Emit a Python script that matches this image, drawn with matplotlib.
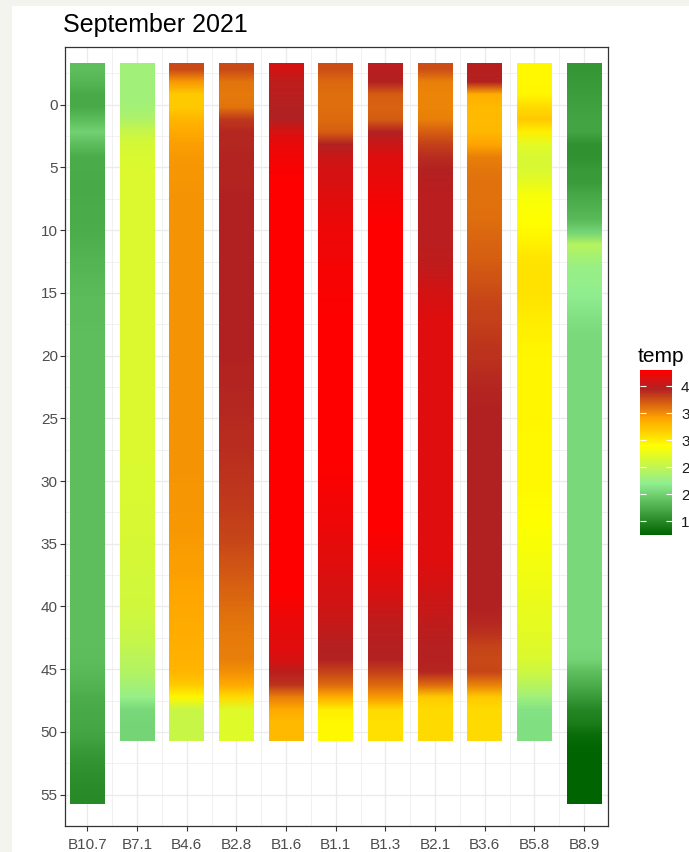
import numpy as np
import matplotlib
matplotlib.use('Agg')
import matplotlib.pyplot as plt
from matplotlib.colors import LinearSegmentedColormap, Normalize
from matplotlib.cm import ScalarMappable
from matplotlib.patches import Rectangle

plt.rcParams['font.family'] = ['Liberation Sans', 'DejaVu Sans']

W, H = 689, 852

stations = ['B10.7', 'B7.1', 'B4.6', 'B2.8', 'B1.6', 'B1.1',
            'B1.3', 'B2.1', 'B3.6', 'B5.8', 'B8.9']

# depth (m) of each reading, B10.7 and B8.9 go deeper
depth_short = list(range(-3, 51))
depth_long = list(range(-3, 56))

# temperature profiles, one value per metre, top to bottom
temp_B10_7 = [18.7, 18.2, 17.3, 17.3, 18.6, 20.1, 18.6, 17.5, 17.4, 17.3,
              17.3, 17.4, 17.5, 17.6, 17.8, 18.0, 18.2, 18.4, 18.5, 18.6,
              18.6, 18.7, 18.7, 18.7, 18.7, 18.8, 18.8, 18.8, 18.8, 18.8,
              18.8, 18.8, 18.8, 18.8, 18.8, 18.8, 18.8, 18.8, 18.8, 18.8,
              18.8, 18.8, 18.8, 18.8, 18.8, 18.7, 18.7, 18.6, 18.4, 18.0,
              17.6, 17.3, 17.2, 17.0, 16.4, 15.9, 15.5, 15.3, 15.2]
temp_B7_1 = [23.0, 23.0, 23.1, 23.3, 24.0, 25.5, 26.4, 26.6, 26.7, 26.7,
             26.7, 26.7, 26.7, 26.7, 26.7, 26.7, 26.7, 26.7, 26.7, 26.7,
             26.7, 26.7, 26.7, 26.7, 26.7, 26.7, 26.7, 26.7, 26.7, 26.7,
             26.7, 26.7, 26.6, 26.6, 26.6, 26.5, 26.5, 26.5, 26.4, 26.4,
             26.3, 26.2, 26.1, 26.0, 25.8, 25.6, 25.2, 24.6, 24.2, 23.4,
             22.4, 20.5, 20.3, 20.3]
temp_B4_6 = [37.8, 34.5, 32.0, 32.0, 33.0, 33.8, 34.3, 34.5, 34.6, 34.6,
             34.7, 34.7, 34.7, 34.7, 34.7, 34.7, 34.7, 34.7, 34.7, 34.7,
             34.7, 34.7, 34.7, 34.7, 34.7, 34.7, 34.7, 34.7, 34.7, 34.7,
             34.7, 34.7, 34.7, 34.6, 34.6, 34.6, 34.5, 34.5, 34.4, 34.3,
             34.2, 34.0, 33.9, 33.8, 33.6, 33.5, 33.4, 33.3, 33.0, 32.0,
             29.5, 25.5, 25.5, 25.5]
temp_B2_8 = [37.8, 36.0, 35.8, 36.0, 38.5, 39.2, 39.3, 39.4, 39.4, 39.4,
             39.5, 39.5, 39.5, 39.5, 39.5, 39.5, 39.5, 39.5, 39.5, 39.5,
             39.5, 39.5, 39.5, 39.5, 39.4, 39.4, 39.3, 39.2, 39.1, 39.0,
             39.0, 38.9, 38.8, 38.6, 38.5, 38.4, 38.2, 38.0, 37.8, 37.5,
             37.2, 36.9, 36.6, 36.3, 36.0, 35.8, 35.7, 35.6, 34.8, 33.8,
             31.0, 27.0, 27.0, 27.0]
temp_B1_6 = [41.0, 40.0, 39.8, 39.5, 39.5, 41.2, 42.0, 42.4, 42.7, 42.9,
             43.0, 43.0, 43.0, 43.0, 43.0, 43.0, 43.0, 43.0, 43.0, 43.0,
             43.0, 43.0, 43.0, 43.0, 43.0, 43.0, 43.0, 43.0, 43.0, 43.0,
             43.0, 43.0, 43.0, 43.0, 43.0, 43.0, 43.0, 43.0, 43.0, 43.0,
             43.0, 43.0, 42.8, 42.4, 42.0, 41.7, 41.6, 41.2, 39.8, 38.8,
             35.5, 33.8, 32.8, 32.8]
temp_B1_1 = [37.6, 36.5, 36.3, 36.3, 36.4, 37.0, 39.5, 40.5, 41.0, 41.2,
             41.5, 41.8, 42.0, 42.2, 42.2, 42.3, 42.6, 42.6, 42.7, 42.8,
             42.9, 42.9, 42.9, 42.9, 42.9, 42.9, 42.9, 42.9, 42.9, 42.9,
             42.9, 42.9, 42.8, 42.7, 42.5, 42.4, 42.2, 42.0, 41.8, 41.6,
             41.4, 41.2, 41.0, 40.7, 40.4, 40.0, 39.6, 39.5, 38.0, 36.5,
             33.5, 30.0, 29.4, 29.4]
temp_B1_3 = [39.8, 39.5, 37.0, 36.8, 37.0, 39.5, 40.5, 41.5, 41.8, 42.0,
             42.3, 42.6, 42.8, 43.0, 43.0, 43.0, 43.0, 43.0, 43.0, 43.0,
             43.0, 43.0, 43.0, 43.0, 43.0, 43.0, 43.0, 43.0, 43.0, 43.0,
             43.0, 43.0, 43.0, 43.0, 43.0, 43.0, 42.9, 42.8, 42.5, 42.2,
             41.8, 41.5, 41.0, 40.5, 40.0, 39.8, 39.6, 39.5, 38.2, 36.5,
             34.5, 31.0, 30.7, 30.7]
temp_B2_1 = [37.6, 35.5, 35.3, 35.3, 35.5, 37.0, 38.2, 39.0, 39.5, 39.7,
             39.8, 39.8, 39.8, 39.8, 39.9, 40.0, 40.2, 40.7, 41.0, 41.3,
             41.5, 41.5, 41.5, 41.5, 41.5, 41.5, 41.5, 41.5, 41.5, 41.5,
             41.5, 41.5, 41.5, 41.5, 41.5, 41.5, 41.5, 41.5, 41.5, 41.5,
             41.3, 41.0, 40.7, 40.4, 40.1, 39.8, 39.6, 39.6, 39.2, 36.5,
             32.0, 31.0, 31.0, 31.0]
temp_B3_6 = [39.7, 39.5, 33.5, 32.8, 32.8, 32.9, 34.0, 35.5, 35.9, 36.1,
             36.1, 36.2, 36.3, 36.5, 36.7, 36.9, 37.2, 37.5, 37.8, 38.0,
             38.2, 38.4, 38.6, 38.8, 39.0, 39.2, 39.4, 39.5, 39.5, 39.5,
             39.5, 39.5, 39.5, 39.5, 39.5, 39.5, 39.5, 39.5, 39.5, 39.5,
             39.5, 39.5, 39.5, 39.5, 39.3, 38.8, 38.0, 37.8, 37.9, 35.5,
             32.0, 31.0, 31.0, 31.0]
temp_B5_8 = [29.3, 29.4, 29.5, 31.0, 32.0, 29.8, 27.2, 26.5, 26.6, 27.5,
             28.5, 28.8, 29.0, 29.3, 29.8, 30.4, 30.6, 30.6, 30.5, 30.3,
             30.0, 29.8, 29.6, 29.5, 29.5, 29.5, 29.5, 29.5, 29.5, 29.4,
             29.4, 29.4, 29.3, 29.3, 29.2, 29.1, 29.0, 28.8, 28.6, 28.4,
             28.2, 28.0, 27.8, 27.6, 27.4, 27.2, 27.0, 26.6, 25.8, 24.6,
             23.0, 21.2, 21.0, 21.0]
temp_B8_9 = [16.0, 16.2, 16.5, 16.7, 17.0, 17.0, 15.7, 15.7, 16.2, 16.4,
             17.2, 17.8, 18.5, 20.3, 24.5, 23.3, 22.5, 22.3, 22.0, 21.5,
             21.0, 20.7, 20.6, 20.6, 20.6, 20.6, 20.6, 20.6, 20.6, 20.6,
             20.6, 20.6, 20.6, 20.6, 20.6, 20.6, 20.6, 20.6, 20.6, 20.6,
             20.6, 20.6, 20.6, 20.6, 20.6, 20.6, 20.6, 20.2, 18.8, 17.6,
             16.3, 15.0, 14.4, 13.2, 12.7, 12.5, 12.5, 12.5, 12.5]

profiles = [temp_B10_7, temp_B7_1, temp_B4_6, temp_B2_8, temp_B1_6, temp_B1_1,
            temp_B1_3, temp_B2_1, temp_B3_6, temp_B5_8, temp_B8_9]

# fill scale: colour anchored at a temperature
scale_temps = [12.5, 22.0, 29.0, 34.0, 39.5, 43.0]
scale_colors = ['#006400', '#90EE90', '#FFFF00', '#FFA500', '#B22222', '#FF0000']
legend_breaks = [15, 20, 25, 30, 35, 40]


def fig_rect(left, top, right, bottom):
    # pixel box -> figure fraction [x, y, w, h]
    return [left / W, 1 - bottom / H, (right - left) / W, (bottom - top) / H]


def makeCmap():
    lo, hi = scale_temps[0], scale_temps[-1]
    nodes = [(t - lo) / (hi - lo) for t in scale_temps]
    cmap = LinearSegmentedColormap.from_list('temp', list(zip(nodes, scale_colors)))
    return cmap, Normalize(vmin=lo, vmax=hi)


def drawProfiles(ax, cmap, norm):
    for i, temps in enumerate(profiles):
        x = i + 1
        depth = depth_long if len(temps) == len(depth_long) else depth_short
        col = np.array(temps)[:, None]
        ax.imshow(col, cmap=cmap, norm=norm, aspect='auto',
                  interpolation='bilinear', interpolation_stage='rgba',
                  extent=(x - 0.35, x + 0.35, depth[-1] + 0.75, depth[0] - 0.25),
                  zorder=2)


fig = plt.figure(figsize=(W / 100, H / 100), dpi=100, facecolor='#f4f4ef')
fig.patches.append(Rectangle((12 / W, 0), 1, 1 - 6 / H, transform=fig.transFigure,
                             facecolor='white', edgecolor='none', zorder=-10))

cmap, norm = makeCmap()

ax = fig.add_axes(fig_rect(65, 47, 608, 826))
drawProfiles(ax, cmap, norm)

ax.set_xlim(0.55, 11.48)
ax.set_ylim(57.13, -4.6)

ax.set_xticks(range(1, len(stations) + 1))
ax.set_xticklabels(stations)
ax.set_xticks(np.arange(1.5, len(stations), 1.0), minor=True)
ax.set_yticks(range(0, 56, 5))
ax.set_yticks(np.arange(-2.5, 57.6, 5.0), minor=True)

ax.grid(which='major', color='#ebebeb', linewidth=1.0, zorder=0)
ax.grid(which='minor', color='#ebebeb', linewidth=0.5, zorder=0)
ax.set_axisbelow(True)

ax.tick_params(which='major', length=3.4, width=0.8, color='#333333',
               labelcolor='#4d4d4d', labelsize=11)
ax.tick_params(axis='y', which='major', pad=1.8)
ax.tick_params(axis='x', which='major', pad=5.5)
ax.tick_params(which='minor', length=0)
for s in ax.spines.values():
    s.set_color('#333333')
    s.set_linewidth(0.9)

fig.text(63 / W, 1 - 32 / H, 'September 2021', fontsize=18, color='black',
         ha='left', va='baseline')

# legend colourbar, labels run off the right edge like the original
cax = fig.add_axes(fig_rect(640, 370, 672, 535))
sm = ScalarMappable(norm=norm, cmap=cmap)
cb = fig.colorbar(sm, cax=cax, ticks=legend_breaks)
cb.outline.set_visible(False)
cax.tick_params(direction='in', length=4.6, width=0.8, color='white',
                left=True, right=True, labelleft=False, labelright=True,
                labelsize=11, labelcolor='#1a1a1a', pad=6.5)
fig.text(638 / W, 1 - 356 / H, 'temp', fontsize=15, color='black',
         ha='left', va='center')

fig.savefig('out.png', dpi=100, facecolor=fig.get_facecolor())
